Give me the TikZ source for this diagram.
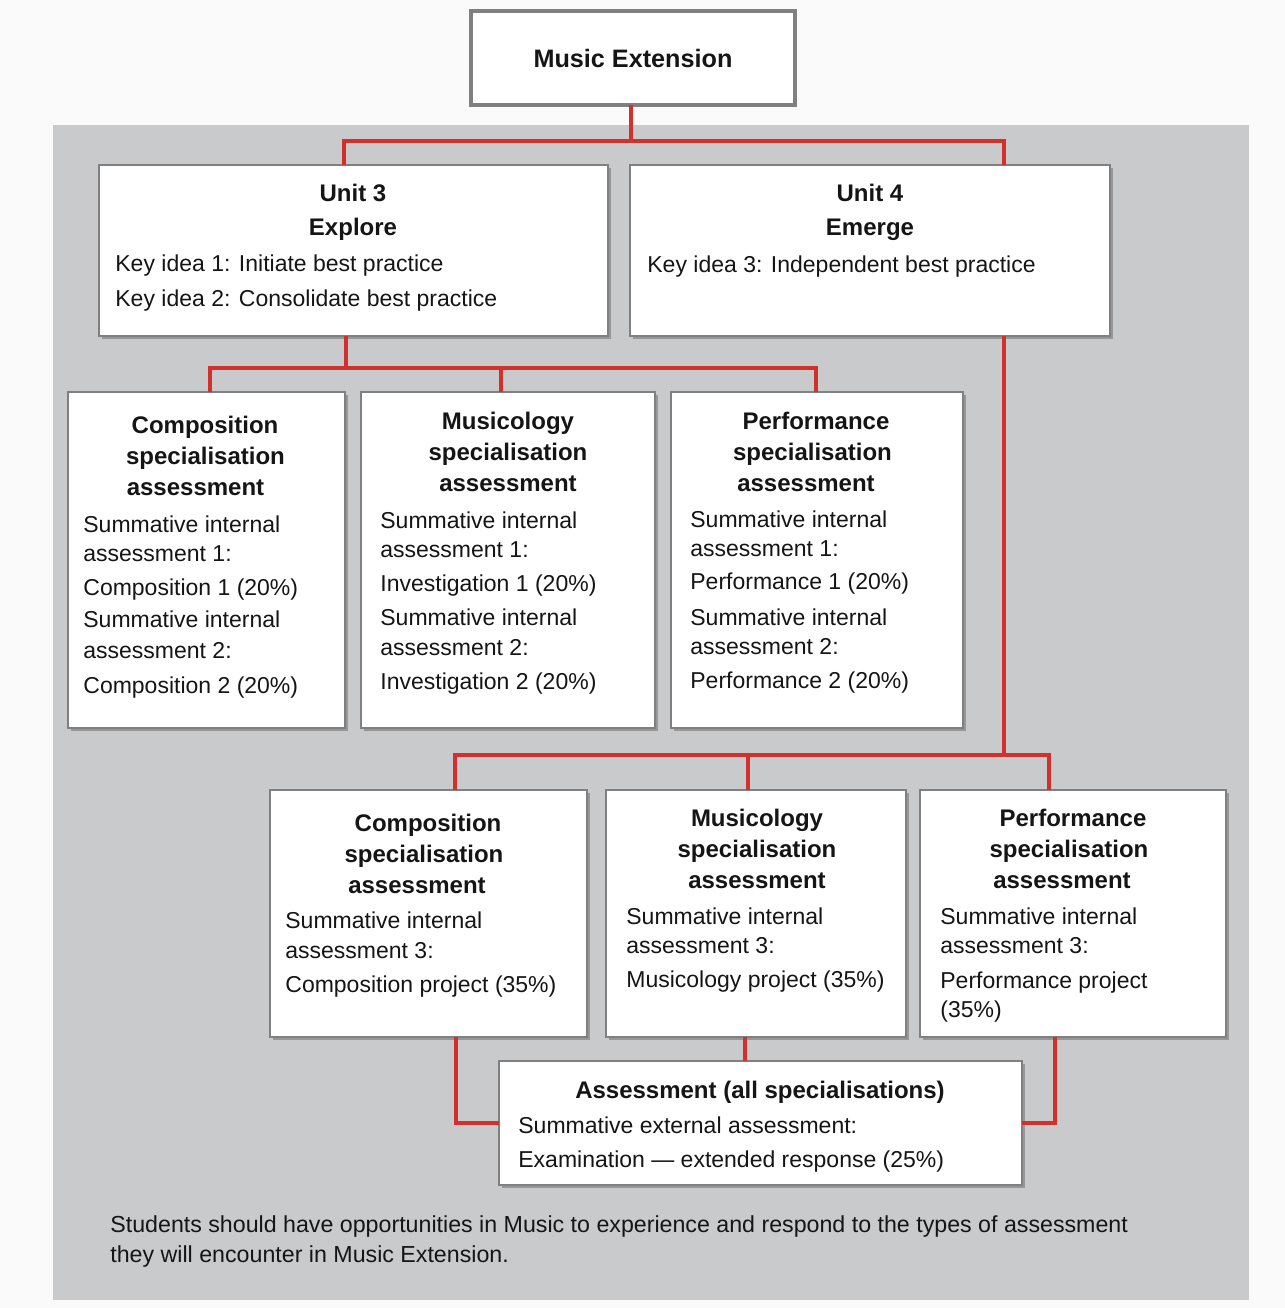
\documentclass[tikz,border=0pt]{standalone}
\usepackage{fontspec}
\setmainfont{Liberation Sans}
\usetikzlibrary{shadows}
\definecolor{panel}{HTML}{C9CACC}
\definecolor{page}{HTML}{FAFAFA}
\definecolor{linkred}{HTML}{D0312D}
\definecolor{frame}{HTML}{808080}
\definecolor{ink}{HTML}{151515}
% box from corner (#2,#3) to corner (#4,#5), named #1, style #6, content #7
\newcommand\mkbox[7]{%
  \node[#6, minimum width={(#4-#2)*0.5pt}, minimum height={(#5-#3)*0.5pt}]
    (#1) at ({(#2+#4)/2},{(#3+#5)/2}) {#7};}
\begin{document}
\begin{tikzpicture}[x=0.5pt,y=-0.5pt,
  box/.style={draw=frame, line width=1.2pt, fill=white, inner sep=0pt, outer sep=0pt,
    drop shadow={shadow xshift=1.3pt, shadow yshift=-1.3pt, fill=black!60, opacity=0.5}},
  topbox/.style={draw=frame, line width=2pt, fill=white, inner sep=0pt, outer sep=0pt,
    font=\fontsize{12.6}{15}\selectfont\bfseries, text=ink},
  link/.style={draw=linkred, line width=2pt},
  body/.style={font=\fontsize{11.5}{14}\selectfont, text=ink, inner sep=0pt, anchor=base west},
  head/.style={font=\fontsize{12}{14}\selectfont\bfseries, text=ink, inner sep=0pt, anchor=base},
]
% page and grey panel
\fill[page] (0,0) rectangle (1285,1308);
\fill[panel] (53,125) rectangle (1249,1300);

% boxes
\mkbox{me}{471}{11}{795}{105}{topbox}{Music Extension}
\mkbox{u3}{99}{165}{608}{336}{box}{}
\mkbox{u4}{630}{165}{1110}{336}{box}{}
\mkbox{c1}{68}{392}{345}{728}{box}{}
\mkbox{m1}{361}{392}{655}{728}{box}{}
\mkbox{p1}{671}{392}{963}{728}{box}{}
\mkbox{c2}{270}{790}{587}{1037}{box}{}
\mkbox{m2}{606}{790}{906}{1037}{box}{}
\mkbox{p2}{920}{790}{1226}{1037}{box}{}
\mkbox{as}{499}{1061}{1022}{1185}{box}{}

% connectors
\coordinate (b0) at (631,141);
\draw[link] (631,0 |- me.south) -- (b0);
\draw[link] (344,0 |- u3.north) |- (b0) -| (1004,0 |- u4.north);
\coordinate (b1) at (346,368);
\draw[link] (346,0 |- u3.south) -- (b1);
\draw[link] (210,0 |- c1.north) |- (b1) -| (816,0 |- p1.north);
\draw[link] (501,0 |- m1.north) -- (501,368);
\coordinate (b2) at (1004,755);
\draw[link] (1004,0 |- u4.south) -- (b2);
\draw[link] (455,0 |- c2.north) |- (b2) -| (1049,0 |- p2.north);
\draw[link] (748,0 |- m2.north) -- (748,755);
\draw[link] (456,0 |- c2.south) |- (as.west);
\draw[link] (1055,0 |- p2.south) |- (as.east);
\draw[link] (745,0 |- m2.south) -- (745,0 |- as.north);

% Unit 3
\node[head] (u3a) at (353,201.5) {Unit 3};
\node[head] (u3b) at (353,235.5) {Explore};
\node[body] (u3c) at (115,271) {Key idea 1: Initiate best practice};
\node[body] (u3d) at (115,306) {Key idea 2: Consolidate best practice};
% Unit 4
\node[head] (u4a) at (870,201.5) {Unit 4};
\node[head] (u4b) at (870,235.5) {Emerge};
\node[body] (u4c) at (647,272) {Key idea 3: Independent best practice};

% Unit 3 specialisations
\node[head] (c1a) at (205,433.5) {Composition};
\node[head] (c1b) at (205.5,464.5) {specialisation};
\node[head] (c1c) at (195.5,495.5) {assessment};
\node[body] (c1d) at (83,532) {Summative internal};
\node[body] (c1e) at (83,561) {assessment 1:};
\node[body] (c1f) at (83,595) {Composition 1 (20\%)};
\node[body] (c1g) at (83,627) {Summative internal};
\node[body] (c1h) at (83,658) {assessment 2:};
\node[body] (c1i) at (83,693) {Composition 2 (20\%)};

\node[head] (m1a) at (508,429.5) {Musicology};
\node[head] (m1b) at (508,460.5) {specialisation};
\node[head] (m1c) at (508,491.5) {assessment};
\node[body] (m1d) at (380,528) {Summative internal};
\node[body] (m1e) at (380,557) {assessment 1:};
\node[body] (m1f) at (380,591) {Investigation 1 (20\%)};
\node[body] (m1g) at (380,625) {Summative internal};
\node[body] (m1h) at (380,655) {assessment 2:};
\node[body] (m1i) at (380,689) {Investigation 2 (20\%)};

\node[head] (p1a) at (816,429.5) {Performance};
\node[head] (p1b) at (812.5,460.5) {specialisation};
\node[head] (p1c) at (806,491.5) {assessment};
\node[body] (p1d) at (690,527) {Summative internal};
\node[body] (p1e) at (690,556) {assessment 1:};
\node[body] (p1f) at (690,589) {Performance 1 (20\%)};
\node[body] (p1g) at (690,625) {Summative internal};
\node[body] (p1h) at (690,654) {assessment 2:};
\node[body] (p1i) at (690,688) {Performance 2 (20\%)};

% Unit 4 specialisations
\node[head] (c2a) at (428,831.5) {Composition};
\node[head] (c2b) at (424,862.5) {specialisation};
\node[head] (c2c) at (417,893.5) {assessment};
\node[body] (c2d) at (285,928) {Summative internal};
\node[body] (c2e) at (285,958) {assessment 3:};
\node[body] (c2f) at (285,992) {Composition project (35\%)};

\node[head] (m2a) at (757,826.5) {Musicology};
\node[head] (m2b) at (757,857.5) {specialisation};
\node[head] (m2c) at (757,888.5) {assessment};
\node[body] (m2d) at (626,924) {Summative internal};
\node[body] (m2e) at (626,953) {assessment 3:};
\node[body] (m2f) at (626,987) {Musicology project (35\%)};

\node[head] (p2a) at (1073,826.5) {Performance};
\node[head] (p2b) at (1069,857.5) {specialisation};
\node[head] (p2c) at (1062,888.5) {assessment};
\node[body] (p2d) at (940,924) {Summative internal};
\node[body] (p2e) at (940,953) {assessment 3:};
\node[body] (p2f) at (940,988) {Performance project};
\node[body] (p2g) at (940,1017) {(35\%)};

% external assessment
\node[head] (asa) at (760,1098.5) {Assessment (all specialisations)};
\node[body] (asb) at (518,1133) {Summative external assessment:};
\node[body] (asc) at (518,1167) {Examination — extended response (25\%)};

% note under the chart
\node[body, font=\fontsize{11.6}{14}\selectfont] (n1) at (110,1232) {Students should have opportunities in Music to experience and respond to the types of assessment};
\node[body, font=\fontsize{11.6}{14}\selectfont] (n2) at (110,1262) {they will encounter in Music Extension.};
\end{tikzpicture}
\end{document}
